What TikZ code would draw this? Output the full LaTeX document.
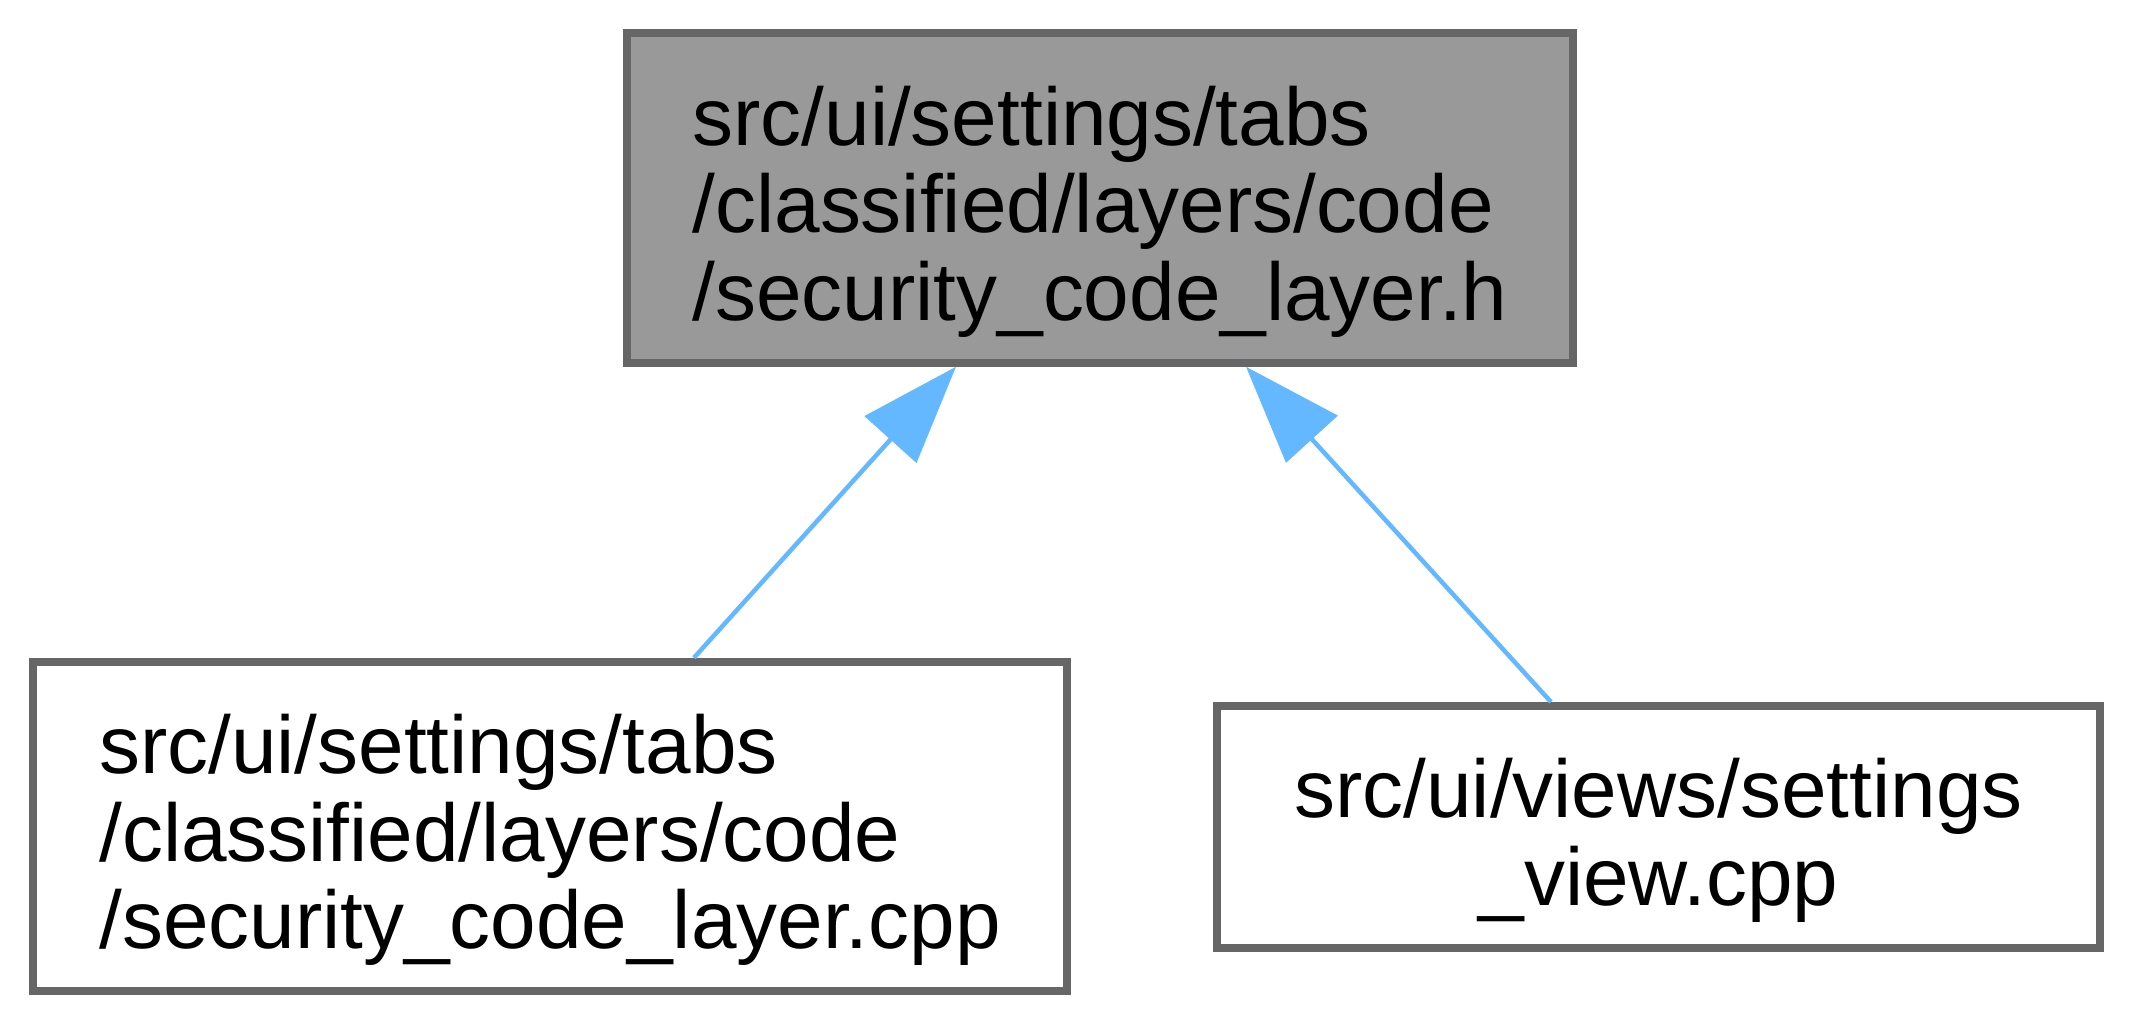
\documentclass[tikz,border=0pt]{standalone}
\usepackage{fontspec}
\setmainfont{Liberation Sans}
\usetikzlibrary{arrows.meta}
\definecolor{edgeblue}{HTML}{63B8FF}
\definecolor{framegray}{HTML}{666666}
\definecolor{mainfill}{HTML}{999999}
\newcommand{\upstrut}{\rule{0pt}{1.12cm}}
\newcommand{\downstrut}{\rule[-0.425cm]{0pt}{0.425cm}}
\begin{document}
\begin{tikzpicture}[font=\fontsize{23.3}{24.9}\selectfont,>={Triangle[length=0.98cm,width=0.69cm]},
 filebox/.style={draw=framegray,line width=0.08cm,fill=white,inner xsep=0pt,inner ysep=0pt,align=left},
 edge/.style={draw=edgeblue,line width=0.045cm}]
\useasboundingbox (0,0) rectangle (21.33,10.25);
\node[filebox,fill=mainfill,minimum width=9.46cm] (hdr) at (11.00,8.27) {\upstrut src/ui/settings/tabs\\/classified/layers/code\\/security\_code\_layer.h\downstrut};
\node[filebox,minimum width=10.34cm] (cpp) at (5.50,1.985) {\upstrut src/ui/settings/tabs\\/classified/layers/code\\/security\_code\_layer.cpp\downstrut};
\node[filebox,align=center,minimum width=8.83cm] (view) at (16.585,1.98) {\upstrut src/ui/views/settings\\\_view.cpp\downstrut};
\draw[edge,->] ([xshift=1.44cm]cpp.north)--([xshift=-1.44cm]hdr.south);
\draw[edge,->] ([xshift=-1.075cm]view.north)--([xshift=1.46cm]hdr.south);
\end{tikzpicture}
\end{document}
